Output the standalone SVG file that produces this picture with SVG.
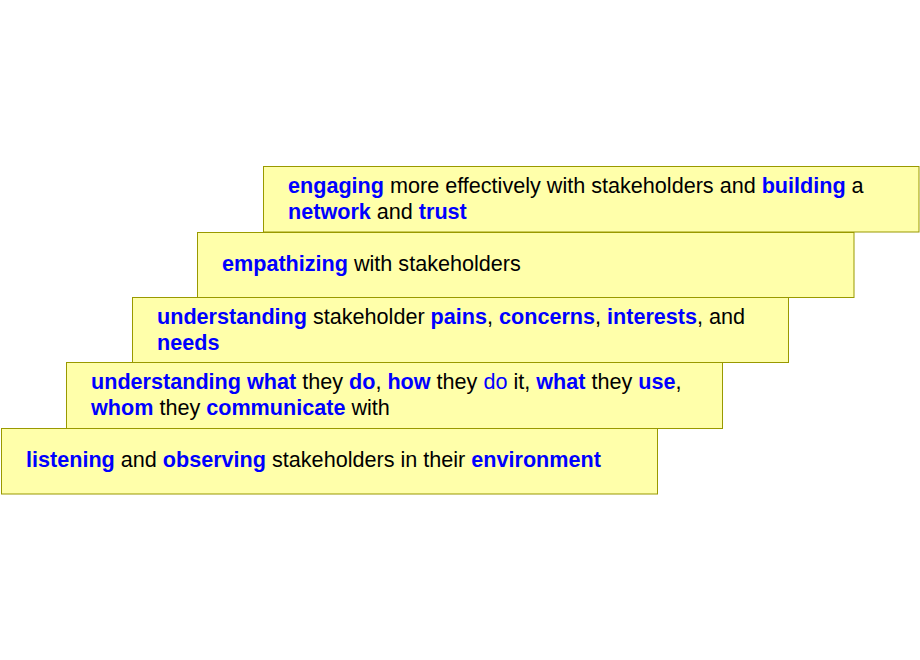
<svg xmlns="http://www.w3.org/2000/svg" width="920" height="660" viewBox="0 0 920 660">
<style>
.box{fill:#FFFFAA;stroke:#999900;stroke-width:1}
text{font-family:"Liberation Sans",Arial,sans-serif;font-size:21.6px;fill:#000000}
.k{fill:#0000FF;font-weight:bold}
.b{fill:#0000FF}
</style>
<rect width="920" height="660" fill="#FFFFFF"/>
<g id="connectors"></g>
<g id="step5">
<rect class="box" x="1.5" y="428.5" width="656" height="65.5"/>
<text x="26" y="466.5"><tspan class="k">listening</tspan> and <tspan class="k">observing</tspan> stakeholders in their <tspan class="k">environment</tspan></text>
</g>
<g id="step4">
<rect class="box" x="66.5" y="362.5" width="656" height="66"/>
<text x="91" y="389"><tspan class="k">understanding</tspan> <tspan class="k">what</tspan> they <tspan class="k">do</tspan>, <tspan class="k">how</tspan> they <tspan class="b">do</tspan> it, <tspan class="k">what</tspan> they <tspan class="k">use</tspan>,</text>
<text x="91" y="415"><tspan class="k">whom</tspan> they <tspan class="k">communicate</tspan> with</text>
</g>
<g id="step3">
<rect class="box" x="132.5" y="297.5" width="656" height="65"/>
<text x="157" y="323.5"><tspan class="k">understanding</tspan> stakeholder <tspan class="k">pains</tspan>, <tspan class="k">concerns</tspan>, <tspan class="k">interests</tspan>, and</text>
<text x="157" y="349.5"><tspan class="k">needs</tspan></text>
</g>
<g id="step2">
<rect class="box" x="197.5" y="232.5" width="656.5" height="65"/>
<text x="222" y="270.5"><tspan class="k">empathizing</tspan> with stakeholders</text>
</g>
<g id="step1">
<rect class="box" x="263.5" y="166.5" width="655.5" height="65.5"/>
<text x="288" y="192.5"><tspan class="k">engaging</tspan> more effectively with stakeholders and <tspan class="k">building</tspan> a</text>
<text x="288" y="218.5"><tspan class="k">network</tspan> and <tspan class="k">trust</tspan></text>
</g>
</svg>
